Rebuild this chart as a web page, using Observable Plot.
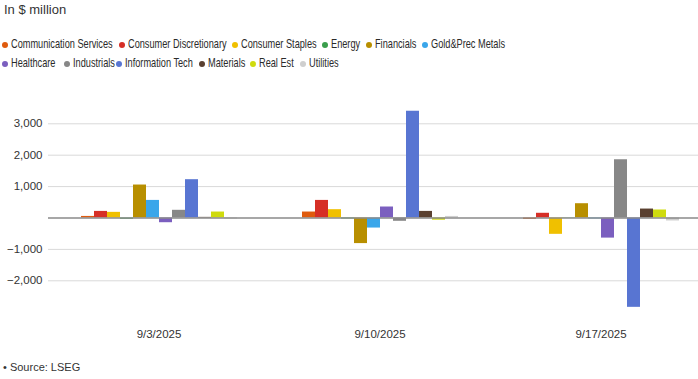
<!DOCTYPE html>
<html>
<head>
<meta charset="utf-8">
<script src="https://cdn.jsdelivr.net/npm/d3@7"></script>
<script src="https://cdn.jsdelivr.net/npm/@observablehq/plot@0.6"></script>
<style>
  html, body { margin: 0; padding: 0; background: #fff; overflow: hidden; width: 698px; height: 379px; }
  body { position: relative; font-family: "Liberation Sans", Arial, Helvetica, sans-serif; color: #333; }
  #title { position: absolute; left: 4px; top: 2px; font-size: 13px; line-height: 16px; color: #333; }
  .item { position: absolute; height: 16px; line-height: 16px; white-space: nowrap; font-size: 12.6px; color: #2a2a2a; }
  .dot { position: absolute; left: 0; top: 6px; width: 6px; height: 6px; border-radius: 50%; }
  .lbl { position: absolute; left: 9px; top: 0; transform: scaleX(0.73); transform-origin: 0 50%; }
  #chart { position: absolute; left: 0; top: 75px; }
  #chart svg { overflow: hidden; }
  #caption { position: absolute; left: 3px; top: 360px; font-size: 11px; line-height: 14px; color: #333; }
</style>
</head>
<body>
<div id="title">In $ million</div>
<div id="legend"></div>
<div id="chart"></div>
<div id="caption">• Source: LSEG</div>
<script>
const dates = ["9/3/2025", "9/10/2025", "9/17/2025"];
const sectors = ["Communication Services", "Consumer Discretionary", "Consumer Staples", "Energy", "Financials", "Gold&Prec Metals",
                 "Healthcare", "Industrials", "Information Tech", "Materials", "Real Est", "Utilities"];
const colors = ["#df5b0e", "#d62f26", "#f0c000", "#3a9e4c", "#b88f00", "#3aa6ea",
                "#7b5fbf", "#878787", "#5875d2", "#5a4030", "#cfdb0e", "#cfcfcf"];
const values_9_3  = [50, 210, 180, -40, 1050, 560, -150, 245, 1220, 20, 190, -30];
const values_9_10 = [190, 560, 265, -30, -815, -320, 350, -105, 3400, 210, -70, 50];
const values_9_17 = [-45, 150, -520, -10, 455, -30, -640, 1855, -2845, 285, 255, -95];
const yTicks = [-2000, -1000, 1000, 2000, 3000];

const seriesByDate = [values_9_3, values_9_10, values_9_17];
const table = dates.flatMap((d, i) => sectors.map((s, j) => ({date: d, sector: s, value: seriesByDate[i][j]})));

// legend (two rows, left positions of the dots as in the reference)
const legendLeft = [2, 119, 232, 322, 366, 422, 2, 64, 116, 199, 250, 300];
const legend = document.getElementById("legend");
sectors.forEach((s, j) => {
  const it = document.createElement("div");
  it.className = "item";
  it.style.left = legendLeft[j] + "px";
  it.style.top = (j < 6 ? 36 : 55) + "px";
  const dot = document.createElement("span");
  dot.className = "dot";
  dot.style.background = colors[j];
  const lbl = document.createElement("span");
  lbl.className = "lbl";
  lbl.textContent = s;
  it.appendChild(dot);
  it.appendChild(lbl);
  legend.appendChild(it);
});

const chart = Plot.plot({
  width: 698,
  height: 275,
  marginLeft: 48,
  marginRight: 0,
  marginTop: 0,
  marginBottom: 30,
  style: {fontFamily: "Liberation Sans, Arial, sans-serif", fontSize: "11.5px", color: "#333", overflow: "hidden"},
  fx: {domain: dates, range: [48, 711], padding: 0, axis: "bottom", tickSize: 0, tickPadding: 9, label: null},
  x: {domain: sectors, paddingInner: 0, paddingOuter: 2.5, axis: null},
  y: {domain: [-3000, 3500], range: [236.7, 32.6], ticks: yTicks, tickSize: 0, tickPadding: 6,
      tickFormat: d3.format(","), label: null},
  color: {domain: sectors, range: colors},
  marks: [
    Plot.ruleY(yTicks, {stroke: "#d9d9d9", strokeWidth: 1}),
    Plot.barY(table, {fx: "date", x: "sector", y: "value", fill: "sector", inset: 0}),
    Plot.ruleY([0], {stroke: "#8a8a8a", strokeWidth: 1.5})
  ]
});
document.getElementById("chart").appendChild(chart);
</script>
</body>
</html>
